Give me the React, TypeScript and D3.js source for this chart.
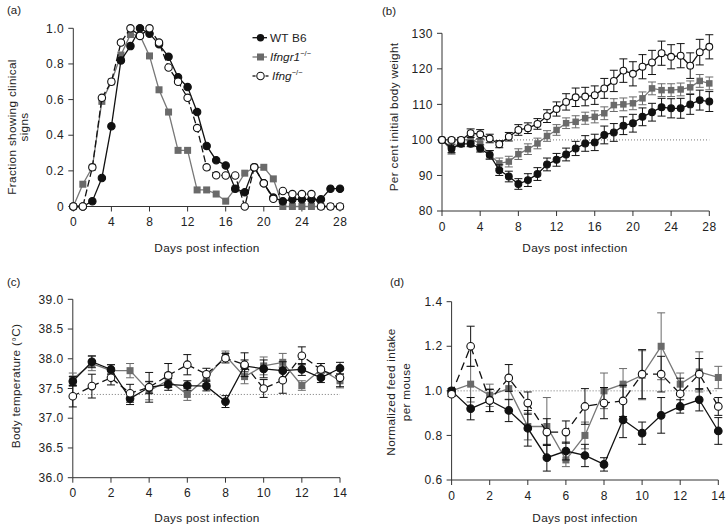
import React from "react";
import * as d3 from "d3";

// ---------- Data ----------
const daysA = d3.range(0, 29);
const aWT = [0, 0, 0.03, 0.16, 0.45, 0.82, 0.9, 1.0, 0.97, 0.91, 0.84, 0.725, 0.67, 0.53, 0.34, 0.26, 0.23, 0.1, 0.08, 0.22, 0.13, 0.05, 0.03, 0.04, 0.04, 0.04, 0.04, 0.1, 0.1];
const aIfngr1 = [0, 0.125, 0.22, 0.59, 0.7, 0.85, 0.965, 0.96, 0.845, 0.655, 0.53, 0.315, 0.315, 0.093, 0.093, 0.07, 0.03, 0.1, 0.187, 0.22, 0.22, 0.155, 0, 0, 0, 0, 0, 0, 0];
const aIfng = [0, 0, 0.22, 0.61, 0.7, 0.92, 1.0, 0.957, 1.0, 0.92, 0.78, 0.7, 0.61, 0.44, 0.22, 0.175, 0.174, 0.174, 0, 0.22, 0.13, 0.043, 0.087, 0.07, 0.07, 0.07, 0, 0, 0];

const daysB = d3.range(0, 29);
const bWT = [100, 97.6, 98.9, 98.9, 97.6, 95.8, 91.5, 89.7, 87.6, 88.7, 90.4, 93.1, 94.4, 95.9, 97.6, 99.0, 99.3, 101.4, 102.1, 104.0, 104.7, 106.5, 107.8, 109.2, 108.9, 108.9, 110.0, 111.2, 110.8];
const bWTerr = [0, 1.2, 0.8, 0.8, 1.0, 1.2, 1.5, 1.5, 1.5, 1.8, 1.8, 1.8, 1.8, 1.8, 2.0, 2.2, 2.3, 2.5, 2.5, 2.5, 2.5, 2.5, 2.5, 2.5, 2.7, 2.8, 2.8, 2.8, 2.8];
const bIfngr1 = [100, 97.0, 99.9, 100.2, 99.0, 95.8, 93.4, 93.9, 96.0, 97.4, 99.0, 101.1, 102.8, 104.7, 105.1, 106.1, 106.5, 107.5, 109.8, 110.0, 110.3, 111.7, 114.5, 114.0, 114.0, 114.2, 114.8, 116.6, 115.9];
const bIfngr1err = [0, 1.0, 0.8, 1.0, 1.2, 1.2, 1.5, 1.5, 1.5, 1.5, 1.5, 1.5, 1.5, 1.5, 1.7, 1.7, 1.7, 1.8, 1.8, 1.8, 1.8, 1.8, 1.8, 1.8, 1.8, 1.8, 1.8, 1.8, 1.8];
const bIfng = [100, 100, 100, 101.9, 101.6, 100.4, 98.8, 100.9, 102.8, 103.3, 104.5, 106.7, 108.7, 110.7, 112.0, 112.2, 112.6, 114.5, 116.6, 119.5, 118.6, 120.6, 121.8, 124.4, 123.4, 123.7, 120.9, 124.7, 126.2];
const bIfngerr = [0, 0.5, 0.5, 1.2, 1.3, 1.2, 1.0, 1.2, 1.5, 1.5, 1.5, 1.8, 2.0, 2.3, 2.6, 2.6, 2.6, 2.8, 3.0, 3.3, 3.4, 3.4, 3.4, 3.4, 3.4, 3.4, 3.6, 3.6, 3.4];

const daysC = d3.range(0, 15);
const cWT = [37.62, 37.95, 37.82, 37.33, 37.52, 37.57, 37.55, 37.54, 37.28, 37.88, 37.83, 37.8, 37.82, 37.68, 37.84];
const cWTerr = [0.08, 0.1, 0.08, 0.1, 0.1, 0.1, 0.08, 0.08, 0.1, 0.1, 0.15, 0.15, 0.1, 0.08, 0.1];
const cIfngr1 = [37.66, 37.92, 37.8, 37.8, 37.46, 37.64, 37.4, 37.68, 38.05, 37.7, 37.88, 37.94, 37.55, 37.82, 37.63];
const cIfngr1err = [0.1, 0.12, 0.1, 0.12, 0.15, 0.12, 0.1, 0.1, 0.08, 0.12, 0.15, 0.15, 0.08, 0.1, 0.12];
const cIfng = [37.37, 37.54, 37.68, 37.42, 37.52, 37.72, 37.9, 37.74, 38.01, 37.9, 37.5, 37.64, 38.05, 37.82, 37.68];
const cIfngerr = [0.18, 0.2, 0.12, 0.15, 0.25, 0.2, 0.17, 0.1, 0.08, 0.2, 0.15, 0.22, 0.15, 0.1, 0.15];

const daysD = d3.range(0, 15);
const dWT = [1.0, 0.92, 0.957, 0.912, 0.832, 0.7, 0.73, 0.71, 0.67, 0.87, 0.81, 0.89, 0.93, 0.96, 0.82];
const dWTerr = [0.01, 0.05, 0.05, 0.05, 0.08, 0.06, 0.04, 0.05, 0.03, 0.08, 0.05, 0.08, 0.03, 0.05, 0.06];
const dIfngr1 = [1.0, 1.03, 0.98, 1.01, 0.84, 0.84, 0.69, 0.8, 1.0, 1.03, 1.07, 1.2, 1.03, 1.085, 1.06];
const dIfngr1err = [0.01, 0.08, 0.05, 0.05, 0.06, 0.13, 0.03, 0.06, 0.08, 0.07, 0.11, 0.15, 0.05, 0.09, 0.05];
const dIfng = [0.985, 1.2, 0.957, 1.058, 0.945, 0.815, 0.815, 0.93, 0.945, 0.955, 1.075, 1.075, 0.987, 1.075, 0.93];
const dIfngerr = [0.01, 0.09, 0.05, 0.06, 0.05, 0.06, 0.05, 0.08, 0.07, 0.07, 0.11, 0.08, 0.07, 0.07, 0.04];

const ticksA = [0, 0.2, 0.4, 0.6, 0.8, 1.0];
const ticksB = [80, 90, 100, 110, 120, 130];
const ticksC = [36.0, 36.5, 37.0, 37.5, 38.0, 38.5, 39.0];
const ticksD = [0.6, 0.8, 1.0, 1.2, 1.4];
const xTicks28 = [0, 4, 8, 12, 16, 20, 24, 28];
const xTicks14 = [0, 2, 4, 6, 8, 10, 12, 14];

// ---------- Styles ----------
const FONT = "'Liberation Sans', Arial, Helvetica, sans-serif";
const BLACK = "#111";
const GRAY = "#6a6a6a";
const GRAYLINE = "#777";
const AXIS = "#333";
const TICKFS = 12;
const TICKLS = 0.5;
const TITLEFS = 11.8;
const TITLELS = 0.3;

type Series = {
  x: number[];
  y: number[];
  err?: number[];
  kind: "wt" | "r1" | "ng";
  dash?: string;
};

type PanelProps = {
  left: number; right: number; top: number; bottom: number;
  xDomain: [number, number]; yDomain: [number, number];
  xTicks: number[]; yTicks: number[]; yFmt: (v: number) => string;
  series: Series[];
  refLine?: number;
  r: number;
  sq: number;
};

function Panel(p: PanelProps) {
  const x = d3.scaleLinear().domain(p.xDomain).range([p.left, p.right]);
  const y = d3.scaleLinear().domain(p.yDomain).range([p.bottom, p.top]);
  const line = d3.line<[number, number]>().x(d => x(d[0])).y(d => y(d[1]));
  const cap = 4;
  return (
    <g>
      {p.refLine !== undefined && (
        <line x1={x(p.xDomain[0])} x2={x(p.xDomain[1])} y1={y(p.refLine)} y2={y(p.refLine)}
          stroke="#777" strokeWidth={1} strokeDasharray="1,2" />
      )}
      {/* axes */}
      <line x1={p.left} x2={p.left} y1={p.bottom} y2={p.top} stroke={AXIS} strokeWidth={1} />
      <line x1={p.left} x2={p.right} y1={p.bottom} y2={p.bottom} stroke={AXIS} strokeWidth={1} />
      {p.yTicks.map(t => (
        <g key={"y" + t}>
          <line x1={p.left - 5} x2={p.left} y1={y(t)} y2={y(t)} stroke={AXIS} />
          <text x={p.left - 9} y={y(t) + 4.2} textAnchor="end" fontSize={TICKFS} letterSpacing={TICKLS} fontFamily={FONT} fill="#222">{p.yFmt(t)}</text>
        </g>
      ))}
      {p.xTicks.map(t => (
        <g key={"x" + t}>
          <line x1={x(t)} x2={x(t)} y1={p.bottom} y2={p.bottom + 5} stroke={AXIS} />
          <text x={x(t) + TICKLS / 2} y={p.bottom + 19.5} textAnchor="middle" fontSize={TICKFS} letterSpacing={TICKLS} fontFamily={FONT} fill="#222">{t}</text>
        </g>
      ))}
      {p.series.map((s, si) => {
        const pts = s.x.map((d, i) => [d, s.y[i]] as [number, number]);
        const col = s.kind === "r1" ? GRAYLINE : BLACK;
        return (
          <g key={"s" + si}>
            {s.err && s.x.map((d, i) => s.err![i] > 0 ? (
              <g key={"e" + i} stroke={s.kind === "r1" ? GRAY : BLACK} strokeWidth={1}>
                <line x1={x(d)} x2={x(d)} y1={y(s.y[i] - s.err![i])} y2={y(s.y[i] + s.err![i])} />
                <line x1={x(d) - cap} x2={x(d) + cap} y1={y(s.y[i] + s.err![i])} y2={y(s.y[i] + s.err![i])} />
                <line x1={x(d) - cap} x2={x(d) + cap} y1={y(s.y[i] - s.err![i])} y2={y(s.y[i] - s.err![i])} />
              </g>
            ) : null)}
            <path d={line(pts) || ""} fill="none" stroke={col} strokeWidth={1.3} strokeDasharray={s.dash} />
            {pts.map((pt, i) => s.kind === "r1" ? (
              <rect key={i} x={x(pt[0]) - p.sq / 2} y={y(pt[1]) - p.sq / 2} width={p.sq} height={p.sq} fill={GRAY} />
            ) : (
              <circle key={i} cx={x(pt[0])} cy={y(pt[1])} r={p.r}
                fill={s.kind === "wt" ? BLACK : "#fff"} stroke={BLACK} strokeWidth={1.1} />
            ))}
          </g>
        );
      })}
    </g>
  );
}

const f1 = (v: number) => (v === 0 ? "0" : v.toFixed(1));
const f1b = (v: number) => v.toFixed(1);
const f0 = (v: number) => String(v);

export default function App() {
  const txt = { fontFamily: FONT, fill: "#222" };
  return (
    <svg width={726} height={526} style={{ position: "absolute", left: 0, top: 0, background: "#fff" }}>
      <rect x={0} y={0} width={726} height={526} fill="#fff" />
      {/* panel labels */}
      <text x={7} y={14} fontSize={11.5} {...txt}>(a)</text>
      <text x={382} y={15} fontSize={11.5} {...txt}>(b)</text>
      <text x={7} y={286} fontSize={11.5} {...txt}>(c)</text>
      <text x={390} y={286} fontSize={11.5} {...txt}>(d)</text>

      {/* Panel a */}
      <Panel left={73.3} right={340} top={28.3} bottom={206.5} xDomain={[0, 28]} yDomain={[0, 1]}
        xTicks={xTicks28} yTicks={ticksA} yFmt={f1} r={3.7} sq={7}
        series={[
          { x: daysA, y: aIfngr1, kind: "r1" },
          { x: daysA, y: aWT, kind: "wt" },
          { x: daysA, y: aIfng, kind: "ng", dash: "7,3" },
        ]} />
      <g fontSize={TITLEFS} letterSpacing={TITLELS} {...txt}>
        <text transform="translate(16,127) rotate(-90)" textAnchor="middle">Fraction showing clinical</text>
        <text transform="translate(28,127) rotate(-90)" textAnchor="middle">signs</text>
        <text x={207} y={252} textAnchor="middle">Days post infection</text>
      </g>
      {/* legend */}
      <g>
        <line x1={252.5} x2={267} y1={37.7} y2={37.7} stroke={BLACK} strokeWidth={1.3} />
        <circle cx={260.5} cy={37.7} r={3.7} fill={BLACK} />
        <text x={270} y={42} fontSize={11.8} letterSpacing={0.2} {...txt}>WT B6</text>
        <line x1={252.5} x2={267} y1={57} y2={57} stroke={GRAYLINE} strokeWidth={1.3} />
        <rect x={257} y={53.5} width={7} height={7} fill={GRAY} />
        <text x={270} y={61} fontSize={11.8} {...txt}><tspan fontStyle="italic">Ifngr1</tspan><tspan fontSize={7.5} dy={-5}>−/−</tspan></text>
        <line x1={252.5} x2={255.5} y1={76} y2={76} stroke={BLACK} strokeWidth={1.3} />
        <line x1={265.5} x2={268.5} y1={76} y2={76} stroke={BLACK} strokeWidth={1.3} />
        <circle cx={260.5} cy={76} r={3.7} fill="#fff" stroke={BLACK} strokeWidth={1.1} />
        <text x={272} y={80} fontSize={11.8} {...txt}><tspan fontStyle="italic">Ifng</tspan><tspan fontSize={7.5} dy={-5}>−/−</tspan></text>
      </g>

      {/* Panel b */}
      <Panel left={442} right={709.3} top={33.3} bottom={211} xDomain={[0, 28]} yDomain={[80, 130]}
        xTicks={xTicks28} yTicks={ticksB} yFmt={f0} r={3.4} sq={6.5} refLine={100}
        series={[
          { x: daysB, y: bIfngr1, err: bIfngr1err, kind: "r1" },
          { x: daysB, y: bWT, err: bWTerr, kind: "wt" },
          { x: daysB, y: bIfng, err: bIfngerr, kind: "ng" },
        ]} />
      <g fontSize={TITLEFS} letterSpacing={TITLELS} {...txt}>
        <text transform="translate(398,117) rotate(-90)" textAnchor="middle">Per cent initial body weight</text>
        <text x={575} y={252} textAnchor="middle">Days post infection</text>
      </g>

      {/* Panel c */}
      <Panel left={72.8} right={340} top={299.3} bottom={477.7} xDomain={[0, 14]} yDomain={[36, 39]}
        xTicks={xTicks14} yTicks={ticksC} yFmt={f1b} r={3.8} sq={7} refLine={37.4}
        series={[
          { x: daysC, y: cIfngr1, err: cIfngr1err, kind: "r1" },
          { x: daysC, y: cWT, err: cWTerr, kind: "wt" },
          { x: daysC, y: cIfng, err: cIfngerr, kind: "ng", dash: "7,4" },
        ]} />
      <g fontSize={TITLEFS} letterSpacing={TITLELS} {...txt}>
        <text transform="translate(20,386) rotate(-90)" textAnchor="middle">Body temperature (°C)</text>
        <text x={207} y={522} textAnchor="middle">Days post infection</text>
      </g>

      {/* Panel d */}
      <Panel left={451.6} right={718.3} top={301.7} bottom={480} xDomain={[0, 14]} yDomain={[0.6, 1.4]}
        xTicks={xTicks14} yTicks={ticksD} yFmt={f1b} r={3.8} sq={7} refLine={1.0}
        series={[
          { x: daysD, y: dIfngr1, err: dIfngr1err, kind: "r1" },
          { x: daysD, y: dWT, err: dWTerr, kind: "wt" },
          { x: daysD, y: dIfng, err: dIfngerr, kind: "ng", dash: "8,5" },
        ]} />
      <g fontSize={TITLEFS} letterSpacing={TITLELS} {...txt}>
        <text transform="translate(395,392) rotate(-90)" textAnchor="middle">Normalized feed intake</text>
        <text transform="translate(410,392) rotate(-90)" textAnchor="middle">per mouse</text>
        <text x={585} y={522} textAnchor="middle">Days post infection</text>
      </g>
    </svg>
  );
}
